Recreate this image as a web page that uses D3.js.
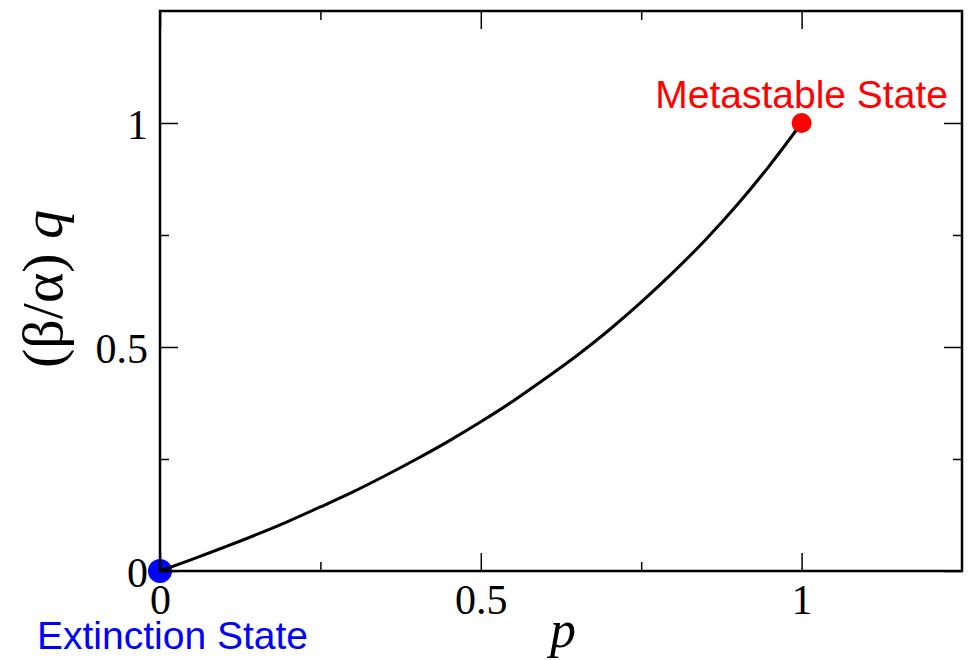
<!DOCTYPE html>
<html>
<head>
<meta charset="utf-8">
<script src="https://cdn.jsdelivr.net/npm/d3@7"></script>
<style>
  body { margin: 0; background: #fff; }
  svg { display: block; }
</style>
</head>
<body>
<svg></svg>
<script>
// chart size
const svgWidth = 968;
const svgHeight = 660;
const margin = { top: 11, right: 6, bottom: 89, left: 160 };

// curve: p vs (beta/alpha) q
const pValues = [0, 0.05, 0.1, 0.15, 0.2, 0.25, 0.3, 0.35, 0.4, 0.45, 0.5,
                 0.55, 0.6, 0.65, 0.7, 0.75, 0.8, 0.85, 0.9, 0.95, 1];
const qValues = [0, 0.026, 0.053, 0.081, 0.111, 0.143, 0.176, 0.212, 0.25, 0.29, 0.333,
                 0.379, 0.429, 0.481, 0.538, 0.6, 0.667, 0.739, 0.818, 0.905, 1];

// the two marked states
const states = [
    { name: "Extinction State", p: 0, q: 0, color: "#0000ff" },
    { name: "Metastable State", p: 1, q: 1, color: "#ff0000" }
];

const majorTicks = [0, 0.5, 1];
const minorTicks = [0.25, 0.75];
const tickLabels = ["0", "0.5", "1"];

const svg = d3.select("svg")
    .attr("width", svgWidth)
    .attr("height", svgHeight);

const x = d3.scaleLinear()
    .domain([0, 1.25])
    .range([margin.left, svgWidth - margin.right]);

const y = d3.scaleLinear()
    .domain([0, 1.25])
    .range([svgHeight - margin.bottom, margin.top]);

const serif = "'Liberation Serif', 'Times New Roman', serif";
const sans = "'Liberation Sans', Arial, sans-serif";
const fmt = d => tickLabels[majorTicks.indexOf(d)];

// blue point sits under the frame
const extinction = states[0];
svg.append("circle")
    .attr("cx", x(extinction.p))
    .attr("cy", y(extinction.q))
    .attr("r", 12)
    .attr("fill", extinction.color);

// ticks on all four sides, pointing inward
function styleAxis(g) {
    g.select(".domain").remove();
    g.selectAll(".tick line").attr("stroke", "#000").attr("stroke-width", 1.5);
    g.selectAll("text")
        .attr("fill", "#000")
        .style("font-family", serif)
        .style("font-size", "42px");
}

const bottomY = y(0), topY = y(1.25), leftX = x(0), rightX = x(1.25);

svg.append("g")
    .attr("transform", `translate(0,${bottomY})`)
    .call(d3.axisBottom(x).tickValues(majorTicks).tickSize(-18).tickPadding(13).tickFormat(fmt))
    .call(styleAxis);
svg.append("g")
    .attr("transform", `translate(0,${bottomY})`)
    .call(d3.axisBottom(x).tickValues(minorTicks).tickSize(-9).tickFormat(""))
    .call(styleAxis);
svg.append("g")
    .attr("transform", `translate(0,${topY})`)
    .call(d3.axisTop(x).tickValues(majorTicks).tickSize(-18).tickFormat(""))
    .call(styleAxis);
svg.append("g")
    .attr("transform", `translate(0,${topY})`)
    .call(d3.axisTop(x).tickValues(minorTicks).tickSize(-9).tickFormat(""))
    .call(styleAxis);

svg.append("g")
    .attr("transform", `translate(${leftX},0)`)
    .call(d3.axisLeft(y).tickValues(majorTicks).tickSize(-18).tickPadding(12).tickFormat(fmt))
    .call(styleAxis)
    .selectAll("text").attr("dy", "0.36em");
svg.append("g")
    .attr("transform", `translate(${leftX},0)`)
    .call(d3.axisLeft(y).tickValues(minorTicks).tickSize(-9).tickFormat(""))
    .call(styleAxis);
svg.append("g")
    .attr("transform", `translate(${rightX},0)`)
    .call(d3.axisRight(y).tickValues(majorTicks).tickSize(-18).tickFormat(""))
    .call(styleAxis);
svg.append("g")
    .attr("transform", `translate(${rightX},0)`)
    .call(d3.axisRight(y).tickValues(minorTicks).tickSize(-9).tickFormat(""))
    .call(styleAxis);

// frame
svg.append("rect")
    .attr("x", leftX)
    .attr("y", topY)
    .attr("width", rightX - leftX)
    .attr("height", bottomY - topY)
    .attr("fill", "none")
    .attr("stroke", "#000")
    .attr("stroke-width", 2.5);

// curve
const line = d3.line()
    .x((d, i) => x(pValues[i]))
    .y((d, i) => y(qValues[i]))
    .curve(d3.curveMonotoneX);

svg.append("path")
    .datum(pValues)
    .attr("d", line)
    .attr("fill", "none")
    .attr("stroke", "#000")
    .attr("stroke-width", 3);

// red point on top of the curve
const meta = states[1];
svg.append("circle")
    .attr("cx", x(meta.p))
    .attr("cy", y(meta.q))
    .attr("r", 10)
    .attr("fill", meta.color);

// state labels
svg.append("text")
    .attr("x", x(meta.p))
    .attr("y", y(meta.q) - 15)
    .attr("text-anchor", "middle")
    .attr("fill", meta.color)
    .style("font-family", sans)
    .style("font-size", "39px")
    .text(meta.name);

svg.append("text")
    .attr("x", 37)
    .attr("y", 649)
    .attr("fill", extinction.color)
    .style("font-family", sans)
    .style("font-size", "39px")
    .text(extinction.name);

// axis titles
svg.append("text")
    .attr("x", (leftX + rightX) / 2 + 2)
    .attr("y", 647)
    .attr("text-anchor", "middle")
    .style("font-family", serif)
    .style("font-style", "italic")
    .style("font-size", "52px")
    .text("p");

const yTitle = svg.append("text")
    .attr("transform", `translate(62,${(topY + bottomY) / 2 - 2}) rotate(-90)`)
    .attr("text-anchor", "middle")
    .style("font-family", serif)
    .style("font-size", "58px");
yTitle.append("tspan").text("(β/α) ");
yTitle.append("tspan").style("font-style", "italic").text("q");
</script>
</body>
</html>
